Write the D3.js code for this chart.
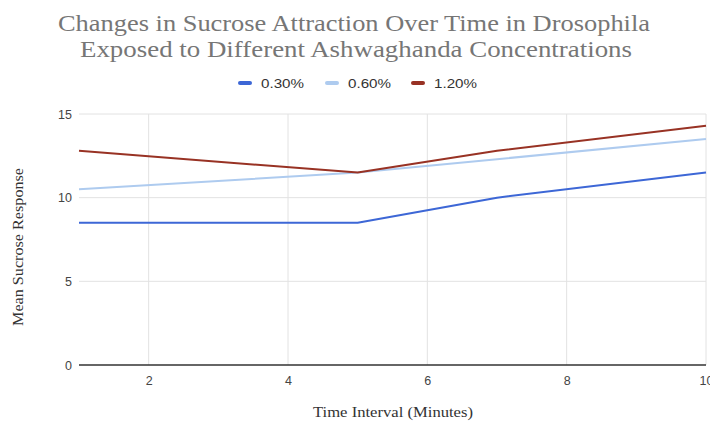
<!DOCTYPE html>
<html>
<head>
<meta charset="utf-8">
<script src="https://cdn.jsdelivr.net/npm/d3@7"></script>
<style>
  html, body { margin: 0; padding: 0; background: #fff; }
  svg { display: block; }
</style>
</head>
<body>
<svg id="chart" width="710" height="425"></svg>
<script>
// Sucrose response over time for three Ashwagandha concentrations
const timePoints = [1, 5, 7, 10];
const series030 = [8.5, 8.5, 10.0, 11.5];
const series060 = [10.5, 11.5, 12.3, 13.5];
const series120 = [12.8, 11.5, 12.8, 14.3];
const seriesNames = ["0.30%", "0.60%", "1.20%"];
const seriesColors = ["#3d67d6", "#aecbef", "#983224"];
const xTicks = [2, 4, 6, 8, 10];
const yTicks = [0, 5, 10, 15];

const allSeries = [series030, series060, series120].map((vals, i) => ({
  name: seriesNames[i],
  color: seriesColors[i],
  points: timePoints.map((t, j) => ({ t, v: vals[j] }))
}));

const svg = d3.select("#chart");
const serif = "'Liberation Serif', 'DejaVu Serif', serif";
const sans = "'Liberation Sans', Arial, sans-serif";

const x = d3.scaleLinear().domain([1, 10]).range([79, 706]);
const y = d3.scaleLinear().domain([0, 15]).range([365, 114]);

// Title, two lines
const titleLines = [
  { text: "Changes in Sucrose Attraction Over Time in Drosophila", cx: 354, base: 30.5, width: 592 },
  { text: "Exposed to Different Ashwaghanda Concentrations", cx: 356, base: 56.5, width: 552 }
];
titleLines.forEach(l => {
  svg.append("text")
    .attr("x", l.cx).attr("y", l.base)
    .attr("text-anchor", "middle")
    .attr("font-family", serif)
    .attr("font-size", 23.5)
    .attr("fill", "#767676")
    .attr("textLength", l.width).attr("lengthAdjust", "spacingAndGlyphs")
    .text(l.text);
});

// Legend
const legendItems = [
  { name: seriesNames[0], color: seriesColors[0], x: 238 },
  { name: seriesNames[1], color: seriesColors[1], x: 325 },
  { name: seriesNames[2], color: seriesColors[2], x: 411 }
];
const lg = svg.append("g");
legendItems.forEach(d => {
  lg.append("rect").attr("x", d.x).attr("y", 81).attr("width", 14).attr("height", 4)
    .attr("rx", 2).attr("fill", d.color);
  lg.append("text").attr("x", d.x + 23).attr("y", 88)
    .attr("font-family", sans)
    .attr("font-size", 13.5).attr("fill", "#333")
    .attr("textLength", 43).attr("lengthAdjust", "spacingAndGlyphs")
    .text(d.name);
});

// Gridlines
const grid = svg.append("g");
grid.selectAll("line.h").data(yTicks.filter(t => t > 0)).join("line")
  .attr("x1", x(1)).attr("x2", x(10))
  .attr("y1", d => y(d)).attr("y2", d => y(d))
  .attr("stroke", "#e2e2e2").attr("stroke-width", 1);
grid.selectAll("line.v").data(xTicks).join("line")
  .attr("x1", d => x(d)).attr("x2", d => x(d))
  .attr("y1", y(15)).attr("y2", y(0))
  .attr("stroke", "#e2e2e2").attr("stroke-width", 1);

// Y axis tick labels
const yAxis = d3.axisLeft(y).tickValues(yTicks).tickSize(0).tickPadding(7).tickFormat(d3.format("d"));
const yg = svg.append("g").attr("transform", `translate(${x(1)},0)`).call(yAxis);
yg.select(".domain").remove();
yg.selectAll("text").attr("font-family", sans)
  .attr("font-size", 12.5).attr("fill", "#444");

// X axis tick labels
const xAxis = d3.axisBottom(x).tickValues(xTicks).tickSize(0).tickPadding(11).tickFormat(d3.format("d"));
const xg = svg.append("g").attr("transform", `translate(0,${y(0)})`).call(xAxis);
xg.select(".domain").remove();
xg.selectAll("text").attr("font-family", sans)
  .attr("font-size", 12.5).attr("fill", "#444");

// Baseline
svg.append("line").attr("x1", x(1)).attr("x2", x(10)).attr("y1", y(0)).attr("y2", y(0))
  .attr("stroke", "#333").attr("stroke-width", 1.5);

// Series lines
const line = d3.line().x(d => x(d.t)).y(d => y(d.v));
svg.append("g").selectAll("path").data(allSeries).join("path")
  .attr("d", d => line(d.points))
  .attr("fill", "none")
  .attr("stroke", d => d.color)
  .attr("stroke-width", 2)
  .attr("stroke-linejoin", "round");

// Axis titles
svg.append("text")
  .attr("transform", "translate(23,247) rotate(-90)")
  .attr("text-anchor", "middle")
  .attr("font-family", serif)
  .attr("font-size", 15).attr("fill", "#333")
  .attr("textLength", 158).attr("lengthAdjust", "spacingAndGlyphs")
  .text("Mean Sucrose Response");

svg.append("text")
  .attr("x", 393).attr("y", 417)
  .attr("text-anchor", "middle")
  .attr("font-family", serif)
  .attr("font-size", 15).attr("fill", "#333")
  .attr("textLength", 160).attr("lengthAdjust", "spacingAndGlyphs")
  .text("Time Interval (Minutes)");
</script>
</body>
</html>
